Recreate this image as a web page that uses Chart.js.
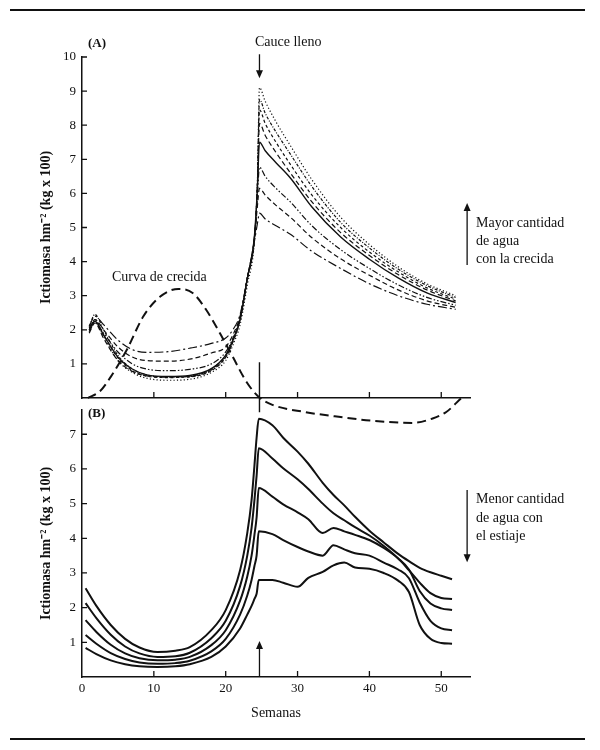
<!DOCTYPE html>
<html lang="es">
<head>
<meta charset="utf-8">
<title>Ictiomasa y crecida</title>
<script src="https://cdn.jsdelivr.net/npm/chart.js@4.4.1/dist/chart.umd.min.js"></script>
<style>
  body { margin: 0; background: #fff; }
  #page { position: relative; width: 600px; height: 750px; font-family: "Liberation Serif", "Times New Roman", serif; color: #111; }
  canvas { position: absolute; left: 0; }
  #chartA { top: 0; }
  #chartB { top: 380px; }
  .rule { position: absolute; left: 10px; width: 575px; height: 2px; background: #111; }
  .txt { position: absolute; font-size: 14px; line-height: 18px; white-space: nowrap; }
  .tag { position: absolute; font-size: 13px; line-height: 16px; font-weight: bold; }
</style>
</head>
<body>
<div id="page">
  <div class="rule" style="top:9px"></div>
  <canvas id="chartA" width="600" height="440"></canvas>
  <canvas id="chartB" width="600" height="370"></canvas>
  <div class="tag" style="left:88px;top:35px">(A)</div>
  <div class="tag" style="left:88px;top:405px">(B)</div>
  <div class="txt" style="left:255px;top:33px">Cauce lleno</div>
  <div class="txt" style="left:112px;top:268px">Curva de crecida</div>
  <div class="txt" style="left:476px;top:214px">Mayor cantidad<br>de agua<br>con la crecida</div>
  <div class="txt" style="left:476px;top:490px;line-height:18.5px">Menor cantidad<br>de agua con<br>el estiaje</div>
  <div class="rule" style="top:738px"></div>
</div>
<script>
// semanas del panel A (crecida) y valores de cada curva
const weeksA = [1, 1.8, 3, 5, 7, 9, 12, 15, 18, 20, 21, 22, 23, 24, 24.4, 24.7, 25.5, 27, 29, 32, 36, 40, 44, 48, 52];
const curvaA1 = [1.95, 2.25, 1.8, 1.1, 0.75, 0.58, 0.52, 0.55, 0.75, 1.1, 1.55, 2.15, 3.3, 4.6, 6.2, 9.1, 8.7, 8.1, 7.4, 6.4, 5.3, 4.5, 3.85, 3.35, 3.0];
const curvaA2 = [2.1, 2.45, 2.0, 1.25, 0.85, 0.68, 0.62, 0.63, 0.82, 1.2, 1.65, 2.3, 3.5, 4.7, 6.2, 8.75, 8.35, 7.8, 7.15, 6.2, 5.15, 4.4, 3.78, 3.3, 2.95];
const curvaA3 = [2.0, 2.3, 1.85, 1.18, 0.8, 0.64, 0.6, 0.62, 0.8, 1.2, 1.65, 2.3, 3.5, 4.7, 6.2, 8.45, 8.05, 7.5, 6.85, 5.95, 5.0, 4.28, 3.7, 3.23, 2.9];
const curvaA4 = [1.9, 2.2, 1.75, 1.1, 0.78, 0.65, 0.62, 0.64, 0.85, 1.25, 1.7, 2.35, 3.5, 4.7, 6.1, 8.05, 7.7, 7.2, 6.6, 5.75, 4.85, 4.18, 3.62, 3.17, 2.85];
const curvaA5 = [2.0, 2.25, 1.85, 1.2, 0.85, 0.68, 0.63, 0.66, 0.86, 1.26, 1.7, 2.3, 3.5, 4.75, 6.1, 7.5, 7.25, 6.9, 6.45, 5.6, 4.72, 4.07, 3.52, 3.08, 2.8];
const curvaA6 = [1.95, 2.2, 1.9, 1.35, 1.0, 0.85, 0.8, 0.84, 1.0, 1.35, 1.75, 2.35, 3.5, 4.7, 5.9, 6.77, 6.5, 6.15, 5.75, 5.05, 4.35, 3.8, 3.32, 2.95, 2.72];
const curvaA7 = [2.05, 2.3, 2.0, 1.5, 1.2, 1.1, 1.08, 1.14, 1.32, 1.5, 1.85, 2.4, 3.5, 4.7, 5.6, 6.15, 5.95, 5.65, 5.3, 4.7, 4.08, 3.6, 3.17, 2.85, 2.66];
const curvaA8 = [2.1, 2.4, 2.15, 1.7, 1.42, 1.34, 1.36, 1.46, 1.6, 1.76, 2.0, 2.45, 3.5, 4.6, 5.1, 5.42, 5.25, 5.05, 4.8, 4.3, 3.8, 3.35, 3.0, 2.75, 2.6];

// curva de crecida (mismas unidades del panel A, baja por debajo del eje)
const crecidaWeeks = [0.8, 2.5, 4, 6.2, 8.5, 10.8, 13.4, 15.4, 17.3, 19.2, 21, 22.9, 24.6, 26.5, 31, 36, 40.5, 46, 48.8, 50.7, 52.8];
const crecidaValues = [0, 0.2, 0.62, 1.4, 2.38, 2.96, 3.2, 3.08, 2.58, 1.9, 1.2, 0.47, 0.03, -0.2, -0.41, -0.56, -0.67, -0.73, -0.6, -0.41, 0];

// panel B (estiaje)
const weeksB = [0.5, 2, 4, 6, 8, 10.5, 13, 15, 18, 20, 22, 23, 23.6, 24, 24.3, 24.6, 26.5, 28, 30, 31.5, 33.5, 35, 36.5, 38, 40, 42, 44, 45.5, 47, 48.5, 50, 51.5];
const curvaB1 = [2.56, 2.05, 1.5, 1.1, 0.85, 0.72, 0.76, 0.86, 1.35, 1.93, 3.08, 4.15, 5.1, 6.1, 6.9, 7.45, 7.26, 6.9, 6.5, 6.15, 5.6, 5.25, 4.95, 4.62, 4.22, 3.88, 3.55, 3.34, 3.15, 3.02, 2.92, 2.82];
const curvaB2 = [2.13, 1.7, 1.22, 0.88, 0.68, 0.58, 0.6, 0.7, 1.12, 1.62, 2.62, 3.5, 4.3, 5.1, 5.8, 6.6, 6.3, 6.02, 5.7, 5.42, 5.0, 4.72, 4.52, 4.32, 4.08, 3.78, 3.42, 3.08, 2.72, 2.42, 2.28, 2.25];
const curvaB3 = [1.64, 1.3, 0.93, 0.68, 0.54, 0.48, 0.5, 0.58, 0.92, 1.35, 2.2, 2.9, 3.5, 4.1, 4.6, 5.45, 5.2, 4.98, 4.75, 4.55, 4.15, 4.3, 4.2, 4.1, 3.95, 3.72, 3.42, 3.1, 2.48, 2.12, 1.98, 1.93];
const curvaB4 = [1.21, 0.96, 0.69, 0.52, 0.42, 0.38, 0.4, 0.47, 0.74, 1.1, 1.8, 2.35, 2.8, 3.2, 3.5, 4.2, 4.12, 3.95, 3.75, 3.62, 3.5, 3.8, 3.68, 3.57, 3.5, 3.3, 3.1, 2.85, 2.15, 1.62, 1.4, 1.35];
const curvaB5 = [0.84, 0.66, 0.48, 0.37, 0.31, 0.29, 0.31, 0.37, 0.58, 0.88, 1.4, 1.8, 2.05, 2.25, 2.4, 2.8, 2.8, 2.72, 2.6, 2.86, 3.03, 3.22, 3.3, 3.16, 3.12, 3.0, 2.78, 2.45, 1.5, 1.1, 0.98, 0.96];

const cauceLleno = 24.7;   // semana de cauce lleno
const ink = '#111';
const serif = '"Liberation Serif", "Times New Roman", serif';
const yTitle = 'Ictiomasa hm\u207B\u00B2 (kg x 100)';

Chart.defaults.font.family = serif;
Chart.defaults.color = ink;

const toXY = (ws, vs) => ws.map((w, i) => ({ x: w, y: vs[i] }));

function line(data, dash, width) {
  return {
    data: data,
    borderColor: ink,
    borderWidth: width || 1.2,
    borderDash: dash || [],
    pointRadius: 0,
    fill: false,
    cubicInterpolationMode: 'monotone',
  };
}

// short ticks pointing into the plot + vertical arrows
const marks = {
  id: 'marks',
  afterDraw(chart, args, opts) {
    const { ctx, scales: { x, y } } = chart;
    ctx.save();
    ctx.strokeStyle = ink;
    ctx.fillStyle = ink;
    ctx.lineWidth = 1.3;
    ctx.beginPath();
    x.ticks.forEach(t => {
      if (t.value <= 0) return;
      const px = x.getPixelForValue(t.value);
      ctx.moveTo(px, y.bottom);
      ctx.lineTo(px, y.bottom - 6);
    });
    y.ticks.forEach(t => {
      if (t.value <= 0) return;
      const py = y.getPixelForValue(t.value);
      ctx.moveTo(x.left, py);
      ctx.lineTo(x.left + 5, py);
    });
    ctx.stroke();
    (opts.arrows || []).forEach(a => {
      const px = x.getPixelForValue(a.x);
      const p1 = y.getPixelForValue(a.from);
      const p2 = y.getPixelForValue(a.to);
      const dir = p2 > p1 ? 1 : -1;
      ctx.beginPath();
      ctx.moveTo(px, p1);
      ctx.lineTo(px, p2 - dir * 6);
      ctx.stroke();
      ctx.beginPath();
      ctx.moveTo(px, p2);
      ctx.lineTo(px - 3.5, p2 - dir * 8);
      ctx.lineTo(px + 3.5, p2 - dir * 8);
      ctx.closePath();
      ctx.fill();
    });
    ctx.restore();
  }
};

function axes(yMax, xHeight, showX) {
  return {
    x: {
      type: 'linear', min: 0, max: 54,
      grid: { display: false, drawTicks: false },
      border: { display: true, color: ink, width: 1.5 },
      ticks: { display: showX, stepSize: 10, includeBounds: false, padding: 4, font: { size: 13 }, color: ink },
      title: { display: showX, text: 'Semanas', font: { size: 14 }, color: ink, padding: { top: 0, bottom: 28 } },
      afterFit: s => { s.height = xHeight; },
    },
    y: {
      min: 0, max: yMax,
      grid: { display: false, drawTicks: false },
      border: { display: true, color: ink, width: 1.5 },
      ticks: { stepSize: 1, includeBounds: false, padding: 6, font: { size: 13 }, color: ink,
        callback: v => (v === 0 ? '' : v) },
      title: { display: true, text: yTitle, font: { size: 14, weight: 'bold' }, color: ink, padding: { top: 38, bottom: 0 } },
      afterFit: s => { s.width = 82; },
    }
  };
}

new Chart(document.getElementById('chartA'), {
  type: 'line',
  data: {
    datasets: [
      line(toXY(weeksA, curvaA1), [1.2, 2.2]),
      line(toXY(weeksA, curvaA2), [3, 1.5, 1, 1.5]),
      line(toXY(weeksA, curvaA3), [3, 2.5]),
      line(toXY(weeksA, curvaA4), [5, 3]),
      line(toXY(weeksA, curvaA5), [], 1.4),
      line(toXY(weeksA, curvaA6), [6, 2, 1.5, 2, 1.5, 2]),
      line(toXY(weeksA, curvaA7), [5, 3]),
      line(toXY(weeksA, curvaA8), [9, 3, 2, 3]),
      Object.assign(line(toXY(crecidaWeeks, crecidaValues), [9, 5], 2), { clip: false }),
      Object.assign(line([{ x: cauceLleno, y: 1.05 }, { x: cauceLleno, y: -0.42 }], [], 1.4),
        { clip: false, cubicInterpolationMode: 'default', tension: 0 }),
    ]
  },
  options: {
    responsive: false,
    animation: false,
    events: [],
    layout: { padding: { top: 57, right: 130, bottom: 42, left: 0 } },
    scales: axes(10, 0, false),
    plugins: {
      legend: { display: false },
      tooltip: { enabled: false },
      marks: { arrows: [{ x: cauceLleno, from: 10.08, to: 9.38 }, { x: 53.6, from: 3.9, to: 5.72 }] },
    }
  },
  plugins: [marks]
});

new Chart(document.getElementById('chartB'), {
  type: 'line',
  data: {
    datasets: [
      line(toXY(weeksB, curvaB1), [], 2),
      line(toXY(weeksB, curvaB2), [], 2),
      line(toXY(weeksB, curvaB3), [], 2),
      line(toXY(weeksB, curvaB4), [], 2),
      line(toXY(weeksB, curvaB5), [], 2),
    ]
  },
  options: {
    responsive: false,
    animation: false,
    events: [],
    layout: { padding: { top: 30, right: 130, bottom: 0, left: 0 } },
    scales: axes(7.7, 73, true),
    plugins: {
      legend: { display: false },
      tooltip: { enabled: false },
      marks: { arrows: [{ x: cauceLleno, from: 0, to: 1.04 }, { x: 53.6, from: 5.39, to: 3.31 }] },
    }
  },
  plugins: [marks]
});
</script>
</body>
</html>
